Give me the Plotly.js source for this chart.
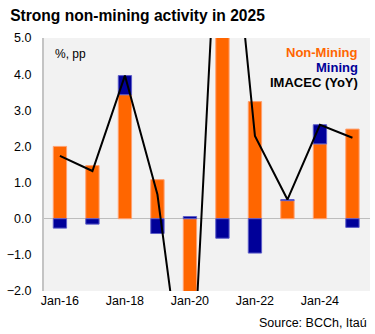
<!DOCTYPE html>
<html>
<head>
<meta charset="utf-8">
<script src="https://cdn.plot.ly/plotly-3.0.1.min.js"></script>
<style>html,body{margin:0;padding:0;background:#fff;}#chart{width:375px;height:334px;}</style>
</head>
<body>
<div id="chart"></div>
<script>
const years = [2016, 2017, 2018, 2019, 2020, 2021, 2022, 2023, 2024, 2025];
const nonMining = [2.0, 1.47, 3.43, 1.08, -6.16, 11.84, 3.24, 0.50, 2.07, 2.48];
const mining = [-0.26, -0.15, 0.53, -0.41, 0.06, -0.54, -0.95, 0.03, 0.53, -0.24];
const imacec = [1.74, 1.32, 3.96, 0.67, -6.1, 11.3, 2.29, 0.53, 2.6, 2.24];
const tickYears = [2016, 2018, 2020, 2022, 2024];
const tickLabels = ['Jan-16', 'Jan-18', 'Jan-20', 'Jan-22', 'Jan-24'];

const FONT = 'Liberation Sans, Arial, sans-serif';

const traces = [
  {type: 'bar', name: 'Non-Mining', x: years, y: nonMining, width: 0.41,
   marker: {color: '#ff6600', line: {color: '#ffa070', width: 1}}, hoverinfo: 'skip'},
  {type: 'bar', name: 'Mining', x: years, y: mining, width: 0.41,
   marker: {color: '#000099', line: {color: '#5c5cc8', width: 1}}, hoverinfo: 'skip'},
  {type: 'scatter', mode: 'lines', name: 'IMACEC (YoY)', x: years, y: imacec,
   line: {color: '#000000', width: 2}, hoverinfo: 'skip'}
];

const layout = {
  width: 375, height: 334,
  margin: {l: 44, r: 5, t: 38, b: 43},
  paper_bgcolor: '#ffffff',
  plot_bgcolor: '#f2f2f2',
  barmode: 'relative',
  showlegend: false,
  font: {family: FONT, size: 12, color: '#000'},
  title: {text: '<b>Strong non-mining activity in 2025</b>', xref: 'container', yref: 'container',
          x: 0.027, xanchor: 'left', y: 0.953, yanchor: 'middle',
          font: {family: FONT, size: 15.6, color: '#000'}},
  xaxis: {range: [2015.51, 2025.54], tickvals: tickYears, ticktext: tickLabels,
          showgrid: false, zeroline: false, showline: false, ticks: '',
          tickfont: {family: FONT, size: 12.5, color: '#000'}, fixedrange: true},
  yaxis: {range: [-2, 5], dtick: 1, tickformat: '.1f', showgrid: false,
          zeroline: true, zerolinecolor: '#bdbdbd', zerolinewidth: 1.5,
          showline: true, linecolor: '#c4c4c4', linewidth: 2, ticks: '',
          ticklabelstandoff: 8,
          tickfont: {family: FONT, size: 12.5, color: '#000'}, fixedrange: true},
  annotations: [
    {text: '%, pp', xref: 'paper', yref: 'paper', x: 0.028, y: 0.937, xanchor: 'left', yanchor: 'middle',
     showarrow: false, font: {family: FONT, size: 12, color: '#000'}},
    {text: '<b>Non-Mining</b>', xref: 'paper', yref: 'paper', x: 0.97, y: 0.942, xanchor: 'right', yanchor: 'middle',
     showarrow: false, font: {family: FONT, size: 13, color: '#ff6600'}},
    {text: '<b>Mining</b>', xref: 'paper', yref: 'paper', x: 0.97, y: 0.883, xanchor: 'right', yanchor: 'middle',
     showarrow: false, font: {family: FONT, size: 13, color: '#000099'}},
    {text: '<b>IMACEC (YoY)</b>', xref: 'paper', yref: 'paper', x: 0.97, y: 0.826, xanchor: 'right', yanchor: 'middle',
     showarrow: false, font: {family: FONT, size: 13, color: '#000'}},
    {text: 'Source: BCCh, Itaú', xref: 'paper', yref: 'paper', x: 0.997, y: -0.128, xanchor: 'right', yanchor: 'middle',
     showarrow: false, font: {family: FONT, size: 12.5, color: '#000'}}
  ]
};

Plotly.newPlot('chart', traces, layout, {displayModeBar: false, staticPlot: true});
</script>
</body>
</html>
